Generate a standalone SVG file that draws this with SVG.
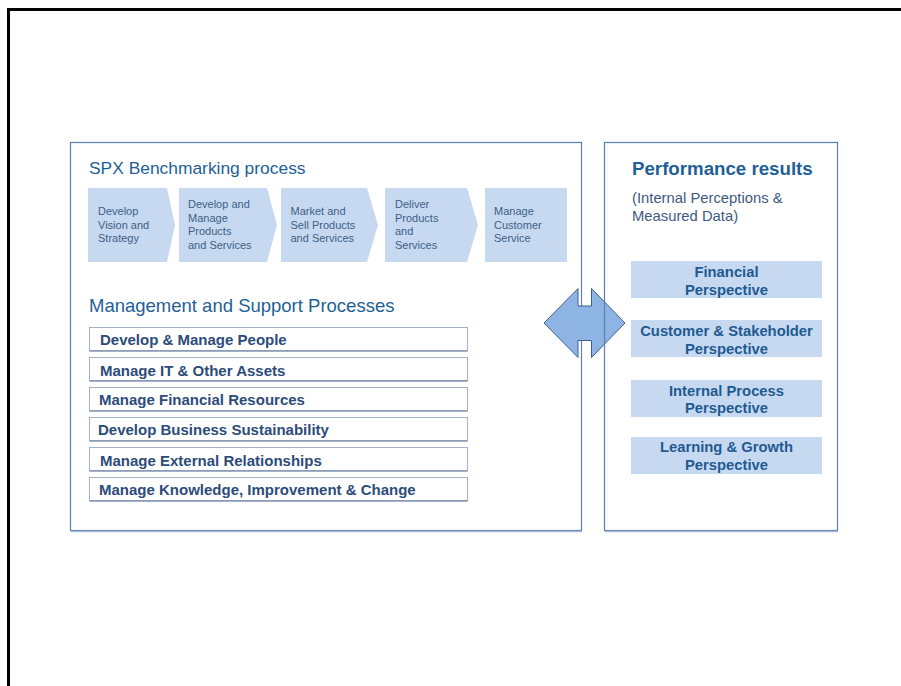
<svg xmlns="http://www.w3.org/2000/svg" width="901" height="686" viewBox="0 0 901 686">
<style>
.panel{fill:#ffffff;stroke:#5d7fb3;stroke-width:1.2}
.panelsh{stroke:#a9b9d3;stroke-width:1.5}
.chev{fill:#c6d9f0}
.ct{font-family:"Liberation Sans",Arial,sans-serif;font-size:11px;fill:#3e5f89}
.title{font-family:"Liberation Sans",Arial,sans-serif;fill:#1f5f97}
.row{fill:#ffffff;stroke:#a4b1c6;stroke-width:1}
.rowsh{stroke:#8596b2;stroke-width:1.5}
.rt{font-family:"Liberation Sans",Arial,sans-serif;font-size:15px;font-weight:bold;fill:#2c4c7a}
.pbox{fill:#c6d9f0}
.pt{font-family:"Liberation Sans",Arial,sans-serif;font-size:14.8px;font-weight:bold;fill:#1f5b92;text-anchor:middle}
.sub{font-family:"Liberation Sans",Arial,sans-serif;font-size:14.8px;fill:#3e5a82}
</style>
<rect x="0" y="0" width="901" height="686" fill="#ffffff"/>
<rect x="8.5" y="9.5" width="900" height="690" fill="none" stroke="#000000" stroke-width="3"/>

<g id="left-panel">
<rect class="panel" x="70.5" y="142.5" width="511" height="388"/>
<line class="panelsh" x1="71" y1="531.5" x2="582" y2="531.5"/>
<text class="title" x="89" y="174" font-size="17.4px">SPX Benchmarking process</text>
<text class="title" x="89" y="311.5" font-size="18.5px">Management and Support Processes</text>
</g>

<g id="chevron-1">
<polygon class="chev" points="88,188 167,188 175,225 167,262 88,262"/>
<text class="ct" x="98" y="215">Develop</text>
<text class="ct" x="98" y="228.5">Vision and</text>
<text class="ct" x="98" y="242">Strategy</text>
</g>
<g id="chevron-2">
<polygon class="chev" points="179,188 267,188 277,225 267,262 179,262"/>
<text class="ct" x="188" y="208">Develop and</text>
<text class="ct" x="188" y="221.5">Manage</text>
<text class="ct" x="188" y="235">Products</text>
<text class="ct" x="188" y="248.5">and Services</text>
</g>
<g id="chevron-3">
<polygon class="chev" points="281,188 367,188 378,225 367,262 281,262"/>
<text class="ct" x="290.5" y="215">Market and</text>
<text class="ct" x="290.5" y="228.5">Sell Products</text>
<text class="ct" x="290.5" y="242">and Services</text>
</g>
<g id="chevron-4">
<polygon class="chev" points="385,188 467,188 478,225 467,262 385,262"/>
<text class="ct" x="395" y="208">Deliver</text>
<text class="ct" x="395" y="221.5">Products</text>
<text class="ct" x="395" y="235">and</text>
<text class="ct" x="395" y="248.5">Services</text>
</g>
<g id="chevron-5">
<rect class="chev" x="485" y="188" width="82" height="74"/>
<text class="ct" x="494" y="215">Manage</text>
<text class="ct" x="494" y="228.5">Customer</text>
<text class="ct" x="494" y="242">Service</text>
</g>

<g id="proc-1">
<rect class="row" x="89.5" y="327.5" width="378" height="23"/>
<line class="rowsh" x1="89.5" y1="351" x2="467.5" y2="351"/>
<text class="rt" x="100" y="345">Develop &amp; Manage People</text>
</g>
<g id="proc-2">
<rect class="row" x="89.5" y="357.5" width="378" height="23"/>
<line class="rowsh" x1="89.5" y1="381" x2="467.5" y2="381"/>
<text class="rt" x="100" y="375.5">Manage IT &amp; Other Assets</text>
</g>
<g id="proc-3">
<rect class="row" x="89.5" y="387.5" width="378" height="23"/>
<line class="rowsh" x1="89.5" y1="411" x2="467.5" y2="411"/>
<text class="rt" x="99" y="405">Manage Financial Resources</text>
</g>
<g id="proc-4">
<rect class="row" x="89.5" y="417.5" width="378" height="23"/>
<line class="rowsh" x1="89.5" y1="441" x2="467.5" y2="441"/>
<text class="rt" x="98" y="435">Develop Business Sustainability</text>
</g>
<g id="proc-5">
<rect class="row" x="89.5" y="447.5" width="378" height="23"/>
<line class="rowsh" x1="89.5" y1="471" x2="467.5" y2="471"/>
<text class="rt" x="100" y="466">Manage External Relationships</text>
</g>
<g id="proc-6">
<rect class="row" x="89.5" y="477.5" width="378" height="23"/>
<line class="rowsh" x1="89.5" y1="501" x2="467.5" y2="501"/>
<text class="rt" x="99" y="495">Manage Knowledge, Improvement &amp; Change</text>
</g>

<g id="connectors">
<polygon points="544,323 578,288.5 578,306 591.5,306 591.5,288.5 625,323 591.5,357.5 591.5,340.5 578,340.5 578,357.5" fill="#8eb4e3" stroke="#3b5f91" stroke-width="1"/>
</g>

<g id="right-panel">
<rect x="604.5" y="142.5" width="233" height="388" fill="none" stroke="#5d7fb3" stroke-width="1.2"/>
<line class="panelsh" x1="605" y1="531.5" x2="838" y2="531.5"/>
<text class="title" x="632" y="174.5" font-size="18.7px" font-weight="bold">Performance results</text>
<text class="sub" x="632" y="203">(Internal Perceptions &amp;</text>
<text class="sub" x="632" y="220.5">Measured Data)</text>
</g>

<g id="persp-financial">
<rect class="pbox" x="631" y="261" width="191" height="37"/>
<text class="pt" x="726.5" y="277">Financial</text>
<text class="pt" x="726.5" y="295">Perspective</text>
</g>
<g id="persp-customer">
<rect class="pbox" x="631" y="320" width="191" height="37"/>
<text class="pt" x="726.5" y="336">Customer &amp; Stakeholder</text>
<text class="pt" x="726.5" y="354">Perspective</text>
</g>
<g id="persp-internal">
<rect class="pbox" x="631" y="380" width="191" height="37"/>
<text class="pt" x="726.5" y="395.5">Internal Process</text>
<text class="pt" x="726.5" y="413">Perspective</text>
</g>
<g id="persp-learning">
<rect class="pbox" x="631" y="437" width="191" height="37"/>
<text class="pt" x="726.5" y="452">Learning &amp; Growth</text>
<text class="pt" x="726.5" y="470">Perspective</text>
</g>
</svg>
